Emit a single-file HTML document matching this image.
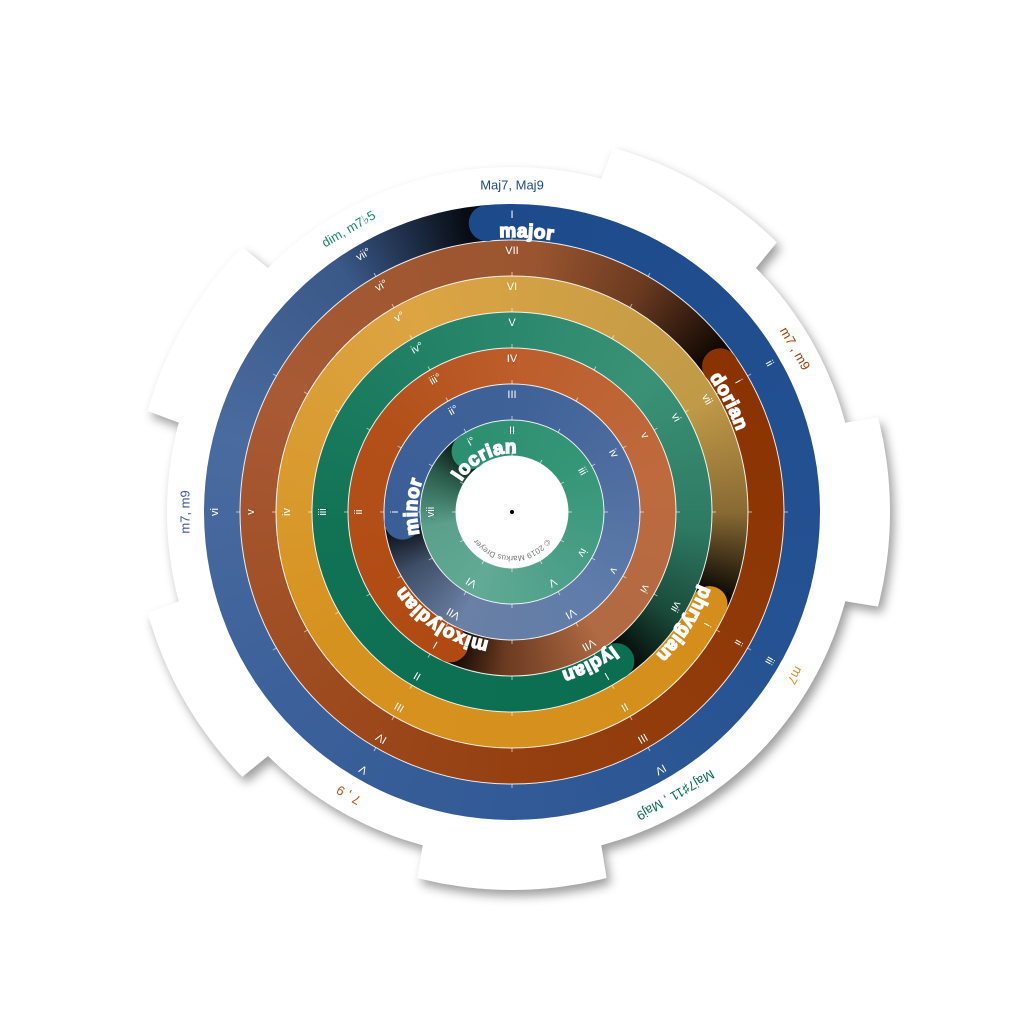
<!DOCTYPE html>
<html><head><meta charset="utf-8"><style>
html,body{margin:0;padding:0;background:#fff;}
#wrap{position:relative;width:1024px;height:1024px;overflow:hidden;background:#fff;}
.ring{position:absolute;border-radius:50%;}
svg{position:absolute;left:0;top:0;}
</style></head><body>
<div id="wrap">
<svg id="base" width="1024" height="1024" style="filter:drop-shadow(4px 6px 5px rgba(0,0,0,0.38))"><path id="shape" fill="#fff"/></svg>
<div id="rings"></div>
<svg id="over" width="1024" height="1024"></svg>
</div>
<script>
// ---- data ----
const modeNames = ["major","dorian","phrygian","lydian","mixolydian","minor","locrian"];
const modeAngles = [0,60,120,150,210,270,330];
const degreeAngles = [0,60,120,150,210,270,330];
const numerals = [
 ["I","ii","iii","IV","V","vi","vii°"],
 ["VII","i","ii","III","IV","v","vi°"],
 ["VI","vii","i","II","III","iv","v°"],
 ["V","vi","vii","I","II","iii","iv°"],
 ["IV","v","vi","VII","I","ii","iii°"],
 ["III","iv","v","VI","VII","i","ii°"],
 ["II","iii","iv","V","VI","vii","i°"]
];
const chordLabels = ["Maj7, Maj9","m7 , m9","m7","Maj7♯11 , Maj9","7 , 9","m7, m9","dim, m7♭5"];
const chordColors = ["#1f4a8a","#a83c00","#d4901e","#0b7050","#c0501a","#3a5a90","#1a8a6a"];
const tabCenters = [30,90,180,240,300];
// ---- style ----
const C=512, ringOuter=[308,272,236,200,164,128,92], ringW=36;
const capColors=["#1d4a8b","#8a3200","#d58e1c","#0b6e51","#b04a12","#3b5e97","#2c8f70"];
const stops=[
 [[0,"#1d4a8b"],[120,"#255292"],[240,"#3d619a"],[290,"#4a6b9f"],[330,"#3a5888"],[356,"#080c14"]],
 [[0,"#8a3200"],[120,"#953f10"],[240,"#a85a34"],[310,"#9a5530"],[335,"#6a3a20"],[357,"#100804"]],
 [[0,"#d58e1c"],[120,"#d6921f"],[220,"#dca443"],[305,"#c09a48"],[335,"#8a6a34"],[357,"#0a0804"]],
 [[0,"#0b6e51"],[120,"#117254"],[200,"#268469"],[260,"#3a9276"],[310,"#2e7a62"],[338,"#1a4a3a"],[357,"#050a08"]],
 [[0,"#b04a12"],[100,"#b3501a"],[160,"#bd5e2c"],[230,"#be6a3e"],[300,"#b06a44"],[338,"#6a3a20"],[357,"#100804"]],
 [[0,"#3b5e97"],[100,"#3f6298"],[160,"#4d6c9f"],[230,"#5f7caa"],[300,"#6a80a4"],[336,"#3e4e66"],[357,"#0a0e16"]],
 [[0,"#2c8f70"],[90,"#359676"],[180,"#4ea08a"],[240,"#62aa95"],[295,"#5aa08a"],[333,"#2a5a4a"],[357,"#081410"]]
];
const NS="http://www.w3.org/2000/svg";
function pt(a,r){const t=a*Math.PI/180;return [C+r*Math.sin(t),C-r*Math.cos(t)];}
let d="";
for(let a=0;a<=360;a+=0.5){
  let inTab=tabCenters.some(c=>Math.abs(((a-c+540)%360)-180)<15);
  const p=pt(a,inTab?378:345);
  d+=(a===0?"M":"L")+p[0].toFixed(1)+","+p[1].toFixed(1);
}
document.getElementById("shape").setAttribute("d",d+"Z");
const rings=document.getElementById("rings");
for(let i=0;i<7;i++){
  const r=ringOuter[i];
  const el=document.createElement("div");
  el.className="ring";
  
  
  el.style.left=(C-r)+"px";el.style.top=(C-r)+"px";el.style.width=2*r+"px";el.style.height=2*r+"px";
  const start=modeAngles[i]-5;
  el.style.background="conic-gradient(from "+start+"deg, "+stops[i].map(s=>s[1]+" "+s[0]+"deg").join(", ")+", "+stops[i][stops[i].length-1][1]+" 360deg)";
  rings.appendChild(el);
}
const ctr=document.createElement("div");
ctr.className="ring";


ctr.style.cssText="left:456px;top:456px;width:112px;height:112px;background:#fff;";
rings.appendChild(ctr);
const ov=document.getElementById("over");
function mk(tag,attrs,parent){const e=document.createElementNS(NS,tag);for(const k in attrs)e.setAttribute(k,attrs[k]);(parent||ov).appendChild(e);return e;}
const defs=mk("defs",{});
for(let i=1;i<8;i++){
  const r=i<7?ringOuter[i]:56;
  const c=mk("circle",{cx:C,cy:C,r:r,fill:"none",stroke:"#fff","stroke-width":1,"stroke-opacity":0.9});
  
  
}
for(let i=0;i<7;i++){
  for(let k=0;k<12;k++){
    const a=k*30, r1=ringOuter[i]-ringW, p1=pt(a,r1), p2=pt(a,r1+4);
    const t=mk("line",{x1:p1[0],y1:p1[1],x2:p2[0],y2:p2[1],stroke:"#fff","stroke-opacity":0.6,"stroke-width":1});
    
    
  }
}
for(let i=0;i<7;i++){
  const rm=ringOuter[i]-ringW/2, L=modeAngles[i];
  const cp=pt(L-5,rm);
  const cap=mk("circle",{cx:cp[0],cy:cp[1],r:ringW/2,fill:capColors[i]});
  
  
  for(let j=0;j<7;j++){
    const a=degreeAngles[j], p=pt(a,ringOuter[i]-11);
    const t=mk("text",{x:0,y:0,transform:"translate("+p[0]+","+p[1]+") rotate("+a+")","text-anchor":"middle","dominant-baseline":"central",fill:"#fff","font-family":"Liberation Sans, sans-serif","font-size":11});
    t.textContent=numerals[i][j];
    
    
  }
  const rt=ringOuter[i]-ringW+3, ac=L+3;
  const a0=pt(ac-90,rt), a1=pt(ac+90,rt);
  mk("path",{id:"arc"+i,d:"M"+a0[0]+","+a0[1]+" A"+rt+","+rt+" 0 0 1 "+a1[0]+","+a1[1]},defs);
  const tx=mk("text",{fill:"#fff","font-family":"Liberation Sans, sans-serif","font-weight":"bold","font-size":19,stroke:"#fff","stroke-width":1.4,"letter-spacing":0.5});
  
  
  const tp=mk("textPath",{href:"#arc"+i,startOffset:"50%","text-anchor":"middle"},tx);
  tp.textContent=modeNames[i];
}
for(let j=0;j<7;j++){
  const a=degreeAngles[j], p=pt(a,327);
  const t=mk("text",{transform:"translate("+p[0]+","+p[1]+") rotate("+a+")","text-anchor":"middle","dominant-baseline":"central",fill:chordColors[j],"font-family":"Liberation Sans, sans-serif","font-size":13});
  t.textContent=chordLabels[j];
  
  
}
const b0=pt(270,44), b1=pt(90,44);
mk("path",{id:"carc",d:"M"+b0[0]+","+b0[1]+" A44,44 0 0 1 "+b1[0]+","+b1[1]},defs);
const cr=mk("text",{fill:"#777","font-family":"Liberation Sans, sans-serif","font-size":8});


const ctp=mk("textPath",{href:"#carc",startOffset:"50%","text-anchor":"middle"},cr);
ctp.textContent="© 2019 Markus Dreyer";
cr.setAttribute("transform","rotate(180 512 512)");
const dot=mk("circle",{cx:C,cy:C,r:2,fill:"#000"});


</script>
</body></html>
